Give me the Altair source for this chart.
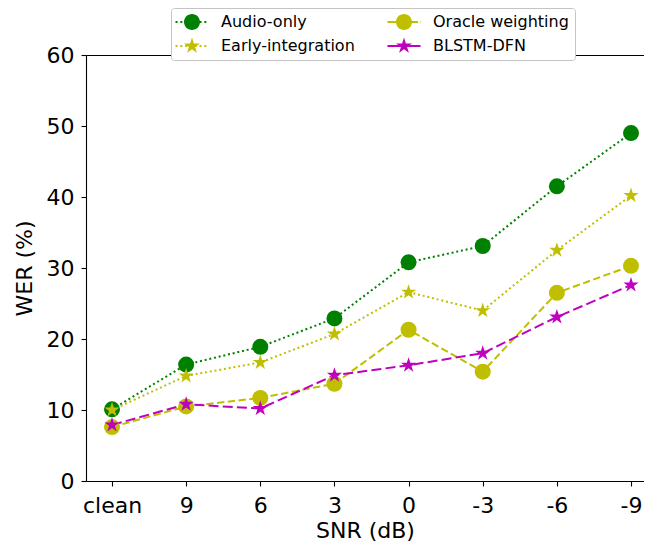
import math
import altair as alt
import pandas as pd

# ---------------- data ----------------
snr = ["clean", "9", "6", "3", "0", "-3", "-6", "-9"]
audio_only = [10.1, 16.4, 18.9, 22.9, 30.8, 33.1, 41.5, 49.0]
early_integration = [10.0, 14.8, 16.7, 20.7, 26.6, 24.0, 32.5, 40.2]
oracle_weighting = [7.6, 10.5, 11.7, 13.7, 21.3, 15.4, 26.5, 30.3]
blstm_dfn = [7.9, 10.8, 10.2, 14.9, 16.3, 18.0, 23.1, 27.6]

series_names = ["Audio-only", "Early-integration", "Oracle weighting", "BLSTM-DFN"]
series_values = [audio_only, early_integration, oracle_weighting, blstm_dfn]
colors = ["#008000", "#bfbf00", "#bfbf00", "#bf00bf"]
dashes = [[2, 2.8], [2, 2.8], [7.4, 3.4], [10, 4.2]]
widths = [2, 2, 2.2, 2.7]

rows = []
for name, vals in zip(series_names, series_values):
    for i, (s, v) in enumerate(zip(snr, vals)):
        rows.append({"snr": s, "idx": i, "wer": v, "series": name})
df = pd.DataFrame(rows)

FONT = "DejaVu Sans"

# ---------------- marker / legend symbol paths ----------------
def star_path(R, inner=0.382):
    pts = []
    for k in range(10):
        a = math.radians(-90 + 36 * k)
        r = R if k % 2 == 0 else R * inner
        pts.append(f"{r * math.cos(a):.3f},{r * math.sin(a):.3f}")
    return "M" + " L".join(pts) + " Z"

def circle_path(r):
    return f"M{r},0 A{r},{r} 0 1,1 {-r},0 A{r},{r} 0 1,1 {r},0 Z"

def rect(x0, x1, h=0.125):
    return f"M{x0:.3f},{-h} L{x1:.3f},{-h} L{x1:.3f},{h} L{x0:.3f},{h} Z"

def dotted(x0, x1, on, period):
    out = []
    x = x0
    while x < x1:
        out.append(rect(x, min(x + on, x1)))
        x += period
    return " ".join(out)

L = 2.06
leg_audio = dotted(-L, L, 0.25, 0.6) + " " + circle_path(1.0)
leg_early = dotted(-L, L, 0.25, 0.6) + " " + star_path(1.05)
leg_oracle = rect(-L, -0.9) + " " + rect(0.9, 1.75) + " " + rect(2.0, L) + " " + circle_path(1.0)
leg_blstm = rect(-L, L) + " " + star_path(1.05)

STAR = star_path(1.0)

legend_order = ["Audio-only", "Early-integration", "Oracle weighting", "BLSTM-DFN"]
legend_colors = ["#008000", "#bfbf00", "#bfbf00", "#bf00bf"]
legend_paths = [leg_audio, leg_early, leg_oracle, leg_blstm]

# ---------------- encodings ----------------
y_enc = alt.Y(
    "wer:Q",
    scale=alt.Scale(domain=[0, 60], nice=False, zero=True),
    axis=alt.Axis(values=[0, 10, 20, 30, 40, 50, 60], title="WER (%)", grid=False,
                  tickSize=5, labelPadding=7, titlePadding=10),
)
x_scale = alt.Scale(domain=snr, padding=0.263, align=0.667)

lines = alt.Chart(df).mark_line().encode(
    x=alt.X("snr:N", sort=snr, scale=x_scale,
            axis=alt.Axis(title="SNR (dB)", labelAngle=0, grid=False, tickSize=5,
                          labelPadding=9, titlePadding=4)),
    y=y_enc,
    color=alt.Color("series:N", scale=alt.Scale(domain=series_names, range=colors), legend=None),
    strokeDash=alt.StrokeDash("series:N", scale=alt.Scale(domain=series_names, range=dashes), legend=None),
    size=alt.Size("series:N", scale=alt.Scale(domain=series_names, range=widths), legend=None),
    order="idx:Q",
)

points = alt.Chart(df).mark_point(filled=True, opacity=1, size=256, strokeWidth=0).encode(
    x=alt.X("snr:N", sort=snr, scale=x_scale, axis=None),
    y=y_enc,
    color=alt.Color("series:N", scale=alt.Scale(domain=series_names, range=colors), legend=None),
    shape=alt.Shape("series:N", scale=alt.Scale(domain=series_names,
                                                range=["circle", STAR, "circle", STAR]), legend=None),
)

legend_layer = alt.Chart(df).transform_filter(alt.datum.wer < 0).mark_point(
    filled=True, opacity=1, strokeWidth=0
).encode(
    x=alt.X("snr:N", sort=snr, scale=x_scale,
            axis=alt.Axis(orient="top", labels=False, ticks=False, title=None, domain=True, grid=False)),
    y=y_enc,
    color=alt.Color("series:N", scale=alt.Scale(domain=legend_order, range=legend_colors),
                    legend=alt.Legend(title=None)),
    shape=alt.Shape("series:N", scale=alt.Scale(domain=legend_order, range=legend_paths),
                    legend=alt.Legend(
                        title=None, orient="none", legendX=85, legendY=-47, columns=2,
                        symbolSize=256, symbolStrokeWidth=0, symbolOffset=7, symbolOpacity=1,
                        labelOffset=21, columnPadding=32, rowPadding=7, padding=6,
                        labelFontSize=16, labelFont=FONT, labelColor="black",
                        fillColor="white", strokeColor="#c4c4c4", cornerRadius=3,
                    )),
)

chart = alt.layer(lines, points, legend_layer).resolve_scale(
    color="independent", shape="independent"
).resolve_axis(x="independent").properties(
    width=558, height=426,
    autosize=alt.AutoSizeParams(type="none"),
    padding={"left": 78, "top": 47, "right": 0, "bottom": 62},
).configure_view(stroke=None).configure_axis(
    labelFont=FONT, titleFont=FONT, labelFontSize=22, titleFontSize=22,
    labelColor="black", titleColor="black", titleFontWeight="normal",
    domainColor="black", tickColor="black", domainWidth=1.1, tickWidth=1.1,
).configure_legend(labelFont=FONT)

chart.save("out.html", embed_options={"renderer": "svg", "actions": False})
